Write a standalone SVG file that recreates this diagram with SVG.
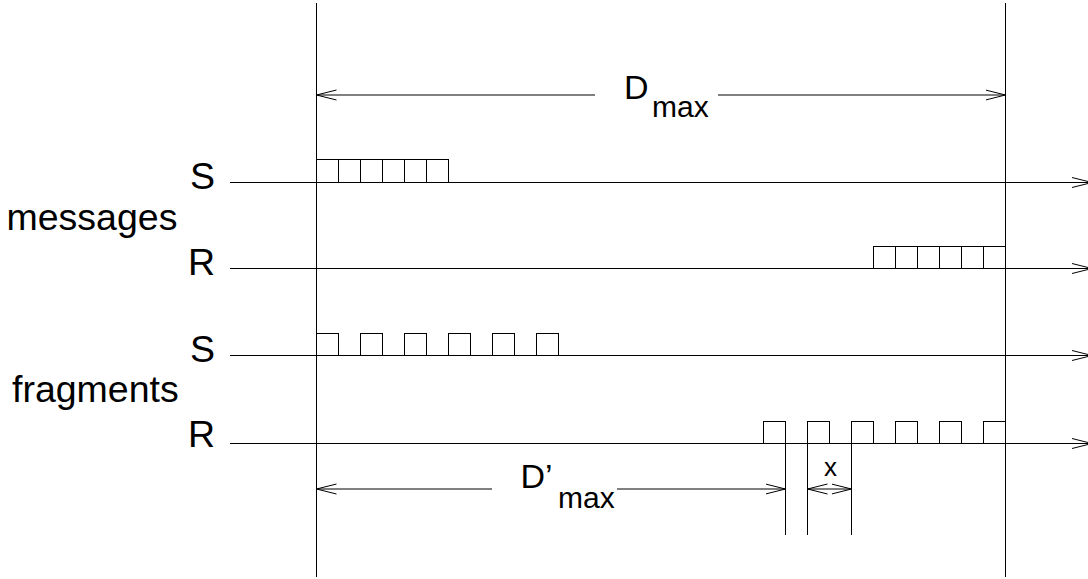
<svg xmlns="http://www.w3.org/2000/svg" width="1088" height="579" viewBox="0 0 1088 579">
<style>
.ln{stroke:#000;stroke-width:1;fill:none}
.box{stroke:#000;stroke-width:1;fill:none}
.lbl{font-family:"Liberation Sans",Arial,sans-serif;font-size:37.5px;fill:#000}
.dim{font-family:"Liberation Sans",Arial,sans-serif;fill:#000}
</style>
<defs>
<marker id="ah" markerUnits="userSpaceOnUse" markerWidth="22" markerHeight="12" refX="20" refY="6" orient="auto-start-reverse" viewBox="0 0 22 12">
<path d="M0,1 L20,6 L0,11" fill="none" stroke="#000" stroke-width="1"/>
</marker>
</defs>
<rect width="1088" height="579" fill="#fff"/>
<g id="connectors">
<line id="bound-left" class="ln" x1="316.5" y1="3" x2="316.5" y2="577"/>
<line id="bound-right" class="ln" x1="1005.5" y1="3" x2="1005.5" y2="577"/>
<line class="ln" x1="595" y1="95" x2="316.5" y2="95" marker-end="url(#ah)"/>
<line class="ln" x1="718" y1="95" x2="1005.5" y2="95" marker-end="url(#ah)"/>
<line id="msg-s-line" class="ln" x1="230" y1="182.5" x2="1092" y2="182.5" marker-end="url(#ah)"/>
<line id="msg-r-line" class="ln" x1="230" y1="268.5" x2="1092" y2="268.5" marker-end="url(#ah)"/>
<line id="frag-s-line" class="ln" x1="230" y1="355.5" x2="1092" y2="355.5" marker-end="url(#ah)"/>
<line id="frag-r-line" class="ln" x1="230" y1="443.5" x2="1092" y2="443.5" marker-end="url(#ah)"/>
<line class="ln" x1="785.5" y1="443.5" x2="785.5" y2="535"/>
<line class="ln" x1="807.5" y1="443.5" x2="807.5" y2="535"/>
<line class="ln" x1="851.5" y1="443.5" x2="851.5" y2="535"/>
<line class="ln" x1="492" y1="489" x2="316.5" y2="489" marker-end="url(#ah)"/>
<line class="ln" x1="617" y1="489" x2="785.5" y2="489" marker-end="url(#ah)"/>
<line class="ln" x1="807.5" y1="489" x2="851.5" y2="489" marker-start="url(#ah)" marker-end="url(#ah)"/>
</g>
<g id="msg-s-boxes">
<rect class="box" x="316.5" y="159.5" width="22" height="23"/>
<rect class="box" x="338.5" y="159.5" width="22" height="23"/>
<rect class="box" x="360.5" y="159.5" width="22" height="23"/>
<rect class="box" x="382.5" y="159.5" width="22" height="23"/>
<rect class="box" x="404.5" y="159.5" width="22" height="23"/>
<rect class="box" x="426.5" y="159.5" width="22" height="23"/>
</g>
<g id="msg-r-boxes">
<rect class="box" x="873.5" y="246.5" width="22" height="22"/>
<rect class="box" x="895.5" y="246.5" width="22" height="22"/>
<rect class="box" x="917.5" y="246.5" width="22" height="22"/>
<rect class="box" x="939.5" y="246.5" width="22" height="22"/>
<rect class="box" x="961.5" y="246.5" width="22" height="22"/>
<rect class="box" x="983.5" y="246.5" width="22" height="22"/>
</g>
<g id="frag-s-boxes">
<rect class="box" x="316.5" y="333.5" width="22" height="22"/>
<rect class="box" x="360.5" y="333.5" width="22" height="22"/>
<rect class="box" x="404.5" y="333.5" width="22" height="22"/>
<rect class="box" x="448.5" y="333.5" width="22" height="22"/>
<rect class="box" x="492.5" y="333.5" width="22" height="22"/>
<rect class="box" x="536.5" y="333.5" width="22" height="22"/>
</g>
<g id="frag-r-boxes">
<rect class="box" x="763.5" y="421.5" width="22" height="22"/>
<rect class="box" x="807.5" y="421.5" width="22" height="22"/>
<rect class="box" x="851.5" y="421.5" width="22" height="22"/>
<rect class="box" x="895.5" y="421.5" width="22" height="22"/>
<rect class="box" x="939.5" y="421.5" width="22" height="22"/>
<rect class="box" x="983.5" y="421.5" width="22" height="22"/>
</g>
<g id="labels">
<text class="lbl" x="215" y="189" text-anchor="end">S</text>
<text class="lbl" x="215" y="275" text-anchor="end">R</text>
<text class="lbl" x="215" y="362" text-anchor="end">S</text>
<text class="lbl" x="215" y="447" text-anchor="end">R</text>
<text class="lbl" x="6.5" y="230">messages</text>
<text class="lbl" x="12" y="402">fragments</text>
</g>
<g id="dmax-label">
<text class="dim" x="624" y="99" font-size="34">D</text>
<text class="dim" x="652" y="117" font-size="30">max</text>
</g>
<g id="dpmax-label">
<text class="dim" x="520.5" y="488" font-size="34">D’</text>
<text class="dim" x="558" y="508" font-size="30">max</text>
</g>
<g id="x-label">
<text class="dim" x="830.5" y="476" font-size="26" text-anchor="middle">x</text>
</g>
</svg>
